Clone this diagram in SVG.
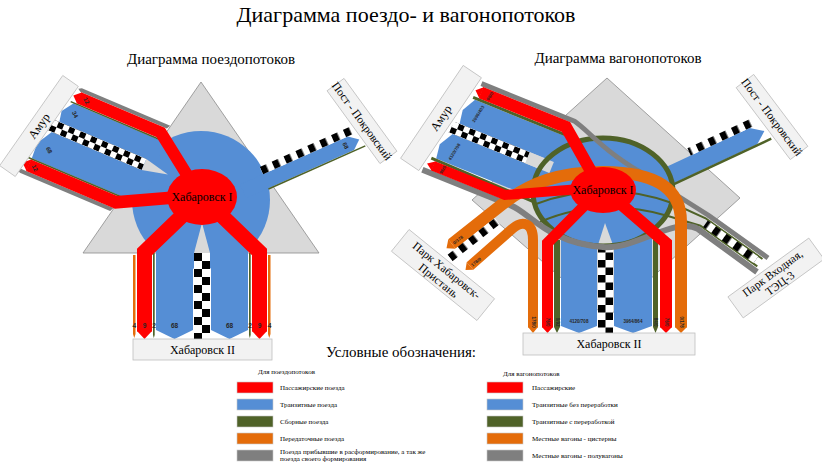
<svg xmlns="http://www.w3.org/2000/svg" width="822" height="464" viewBox="0 0 822 464">
<defs>
<style>
text{font-family:"Liberation Serif","DejaVu Serif","Noto Serif",serif}
.t{fill:#000}
.box{fill:#f2f2f2;stroke:#bfbfbf;stroke-width:0.8}
.red{fill:#ff0000}
.blue{fill:#558ed5}
.grn{fill:#4f6228}
.org{fill:#e46c0a}
.gry{fill:#7f7f7f}
.lg{fill:#d9d9d9}
.rs{fill:none;stroke:#ff0000;stroke-linejoin:miter;stroke-miterlimit:10}
.gs{fill:none;stroke:#4f6228}
.ys{fill:none;stroke:#7f7f7f;stroke-linejoin:round}
.os{fill:none;stroke:#e46c0a}
text.lbl,.lbl text{font-family:"Liberation Sans",Arial,sans-serif;font-weight:bold;fill:#262626;text-anchor:middle}
.leg{font-size:7px;fill:#000}
.sw{stroke:#c8c8c8;stroke-width:0.6}
</style>
<pattern id="chk6" x="0" y="0" width="12" height="12" patternUnits="userSpaceOnUse"><rect width="12" height="12" fill="#fff"/><rect width="6" height="6" fill="#000"/><rect x="6" y="6" width="6" height="6" fill="#000"/></pattern>
<pattern id="chkA" x="0" y="-4" width="13" height="8" patternUnits="userSpaceOnUse"><rect width="13" height="8" fill="#fff"/><rect width="6.5" height="8" fill="#000"/></pattern>
<pattern id="chkB" x="194" y="253" width="16" height="16" patternUnits="userSpaceOnUse"><rect width="16" height="16" fill="#fff"/><rect width="8" height="8" fill="#000"/><rect x="8" y="8" width="8" height="8" fill="#000"/></pattern>
<pattern id="chkC" x="598" y="245" width="15" height="15" patternUnits="userSpaceOnUse"><rect width="15" height="15" fill="#fff"/><rect width="7.5" height="7.5" fill="#000"/><rect x="7.5" y="7.5" width="7.5" height="7.5" fill="#000"/></pattern>
</defs>
<rect width="822" height="464" fill="#fff"/>

<text class="t" x="406" y="22" font-size="22" text-anchor="middle">Диаграмма поездо- и вагонопотоков</text>

<!-- ============ TRAIN FLOW DIAGRAM ============ -->
<g id="train-diagram">
<text class="t" x="211" y="64" font-size="15" text-anchor="middle">Диаграмма поездопотоков</text>
<polygon id="tf-triangle" points="201,82 83,253 319,253" fill="#d9d9d9" stroke="#8c8c8c" stroke-width="0.8"/>
<circle id="tf-hub" cx="201" cy="200" r="69" class="blue"/>

<g id="tf-connectors">
<g id="tf-amur-flows" transform="translate(51,125) rotate(23)">
 <polygon class="blue" points="4.3,-17 12.2,-28.5 112,-28.5 112,-6 6.5,-6"/>
 <polygon class="blue" points="-5.6,22 3.5,6 115,6 115,38 -4.7,38"/>
 <polygon fill="url(#chk6)" points="1.5,-6 101,-6 101,6 -1.5,6"/>
 <polygon class="lg" points="101,-6 127,0 101,6"/>
 <polygon class="gry" points="11,-44 14,-46 110,-46 108,-42 14,-42"/>
 <polygon class="gry" points="-13.7,54 -10,52 90,52 88,56 -10,56"/>
 <path class="gs" stroke-width="1.6" d="M9,-29.2 H105"/>
 <path class="gs" stroke-width="1.6" d="M-9.5,38.8 H95"/>
 <path class="rs" stroke-width="12" d="M15,-36 L104,-36 L162,5"/>
 <polygon class="red" points="9,-36 15.5,-42 15.5,-30"/>
 <path class="rs" stroke-width="12.5" d="M-5,45.75 L90,45.75 L158,10"/>
 <polygon class="red" points="-11.6,45.75 -4.5,39.5 -4.5,52"/>
 <text class="lbl" font-size="6" transform="translate(23,-36) rotate(40)" dy="2">12</text>
 <text class="lbl" font-size="6" transform="translate(18,-19) rotate(40)" dy="2">34</text>
 <text class="lbl" font-size="6" transform="translate(8,24) rotate(40)" dy="2">68</text>
 <text class="lbl" font-size="6" transform="translate(2,46) rotate(40)" dy="2">12</text>
</g>
<g id="tf-pokr-flows" transform="translate(202,197) rotate(-24)">
 <polygon class="blue" points="40,4 158,4 167,11.5 158,19 40,19"/>
 <rect x="65" y="-4" width="98" height="8" fill="url(#chkA)"/>
 <path class="gs" stroke-width="1.5" d="M64,19.75 H170"/>
 <text class="lbl" font-size="6" transform="translate(152,11.5) rotate(90)" dy="2">68</text>
</g>
<g id="tf-khab2-flows">
 <polygon class="blue" points="156,245 193,245 193,330 174.5,339 156,330"/>
 <polygon class="blue" points="211,245 248,245 248,330 229.5,339 211,330"/>
 <polygon class="lg" points="202,223 194,253 210,253"/>
 <rect x="194" y="253" width="16" height="86" fill="url(#chkB)"/>
 <polygon class="org" points="133,255 135.5,255 135.5,334 134.25,338 133,334"/>
 <polygon class="grn" points="153,253 154.7,253 154.7,335 153.8,338 153,335"/>
 <polygon class="grn" points="249,253 250.7,253 250.7,335 249.8,338 249,335"/>
 <polygon class="org" points="268,255 270.5,255 270.5,334 269.25,338 268,334"/>
 <path class="rs" stroke-width="15" d="M186,212 L144.5,252 L144.5,331.5"/>
 <polygon class="red" points="137,331 152,331 144.5,339"/>
 <path class="rs" stroke-width="15" d="M218,212 L259.5,252 L259.5,331.5"/>
 <polygon class="red" points="252,331 267,331 259.5,339"/>
 <g class="lbl" font-size="6.5">
  <text x="134.3" y="328">4</text><text x="144.5" y="328">9</text><text x="154" y="328">2</text>
  <text x="174.5" y="328">68</text><text x="229.5" y="328">68</text>
  <text x="250" y="328">2</text><text x="259.5" y="328">9</text><text x="269.5" y="328">4</text>
 </g>
</g>
</g>

<g id="tf-node-khab1">
 <ellipse cx="202" cy="197" rx="35" ry="28" class="red"/>
 <text class="t" x="202" y="201" font-size="12" text-anchor="middle">Хабаровск I</text>
</g>
<g id="tf-node-amur" transform="translate(39,126) rotate(-55)">
 <rect class="box" x="-55" y="-9.5" width="110" height="19"/>
 <text class="t" x="0" y="4" font-size="12" text-anchor="middle">Амур</text>
</g>
<g id="tf-node-pokr" transform="translate(362,121) rotate(54)">
 <rect class="box" x="-45" y="-10.5" width="90" height="21"/>
 <text class="t" x="0" y="4" font-size="11.5" text-anchor="middle">Пост - Покровский</text>
</g>
<g id="tf-node-khab2">
 <rect class="box" x="133" y="339" width="139" height="21"/>
 <text class="t" x="202.5" y="354" font-size="12" text-anchor="middle">Хабаровск II</text>
</g>
</g>

<!-- ============ WAGON FLOW DIAGRAM ============ -->
<g id="wagon-diagram">
<text class="t" x="618" y="63" font-size="15" text-anchor="middle">Диаграмма вагонопотоков</text>
<polygon id="wf-diamond" points="607,78 740,198 607,318 472,200" fill="#d9d9d9" stroke="#8c8c8c" stroke-width="0.8"/>
<ellipse id="wf-hub" cx="603" cy="192" rx="70" ry="54" class="blue"/>

<g id="wf-connectors">
<g id="wf-amur-base" transform="translate(451.5,127) rotate(22)">
 <polygon class="blue" points="4,-20 11.7,-34 125,-34 125,-6 6.3,-6"/>
 <polygon class="blue" points="-4.4,20.5 3.7,6 120,6 120,35 -2.4,35"/>
 <polygon fill="url(#chk6)" points="1.3,-6 82,-6 82,6 -1.3,6"/>
 <polygon class="lg" points="82,-6 108,-6 108,6 82,6"/>
 <path class="gs" stroke-width="3" d="M9,-35.5 H112"/>
 <path class="gs" stroke-width="3" d="M-7,36.5 L105,38.5"/>
</g>
<g id="wf-pokr-base" transform="translate(603,192) rotate(-25)">
 <polygon class="blue" points="40,4 160,4 172,13 160,22 40,22"/>
 <rect x="95" y="-4" width="72" height="8" fill="url(#chkA)"/>
 <path class="gs" stroke-width="2.5" d="M60,22.8 H175"/>
</g>
<g id="wf-khab2-base">
 <polygon class="blue" points="561,232 597,232 597,326 579,333 561,326"/>
 <polygon class="blue" points="614,232 652,232 652,326 633,333 614,326"/>
 <polygon class="lg" points="605,223 598,245 613,245"/>
 <rect x="598" y="245" width="15" height="88" fill="url(#chkC)"/>
</g>
<ellipse id="wf-ring" cx="603" cy="192" rx="70" ry="54" fill="none" stroke="#4f6228" stroke-width="5"/>
<path class="gs" stroke-width="2" d="M533,205 Q603,178 672,203 L705.6,218.3 L762.5,259"/>
<path class="gs" stroke-width="2" d="M540,222 Q600,196 668,216 L700.4,225.7 L757.3,266.4"/>
<path class="ys" stroke-width="5" d="M481.5,83.6 L574.6,121.3 C590,132 600,148 640,172 L708,215 L768,258"/>
<path class="ys" stroke-width="6" d="M422.4,169.7 L511.4,205.7 C530,213 548,243 603,247 C635,250 675,216 698,229 L757,272"/>
<g transform="translate(703,222) rotate(35.6)"><rect x="3" y="-4" width="62" height="8" fill="url(#chkA)"/></g>

<path class="os" stroke-width="12" d="M452,244 L500,206 C530,182 560,172 603,172 C650,172 681,185 681,222 L681,327.5"/>
<polygon class="org" points="455.7,248.7 448.3,239.3 446.5,248.3"/>
<polygon class="org" points="675,327 687,327 681,333"/>
<path class="os" stroke-width="10" d="M470,266 L512,229 C522,220 533,222 533,240 L533,327.5"/>
<polygon class="org" points="473.3,269.75 466.7,262.25 465.5,270"/>
<polygon class="org" points="528,327 538,327 533,333"/>
<g transform="translate(450,258) rotate(-38)"><rect x="0" y="-4" width="60" height="8" fill="url(#chkA)"/></g>

<g id="wf-amur-red" transform="translate(451.5,127) rotate(22)">
 <path class="rs" stroke-width="12" d="M14.5,-43 L106,-43 L160,0"/>
 <polygon class="red" points="8.5,-43 15,-49 15,-37"/>
 <path class="rs" stroke-width="10" d="M-2.5,43 L75,43 L145,8"/>
 <polygon class="red" points="-9,43 -2,38 -2,48"/>
 <text class="lbl" font-size="4.5" transform="translate(24,-43) rotate(-80)" dy="1.5">96/0</text>
 <text class="lbl" font-size="4.5" transform="translate(20,-22) rotate(-80)" dy="1.5">2096/403</text>
 <text class="lbl" font-size="4.5" transform="translate(12,22) rotate(-80)" dy="1.5">4120/708</text>
 <text class="lbl" font-size="4.5" transform="translate(8,43) rotate(-80)" dy="1.5">96/0</text>
</g>
<g id="wf-khab2-top">
 <polygon class="grn" points="554,240 560,240 560,327 557,333 554,327"/>
 <polygon class="grn" points="653,240 658,240 658,327 655.5,333 653,327"/>
 <path class="rs" stroke-width="11" d="M585,205 L547.5,243 L547.5,327.5"/>
 <polygon class="red" points="542,327 553,327 547.5,333"/>
 <path class="rs" stroke-width="12" d="M622,205 L666,243 L666,327.5"/>
 <polygon class="red" points="660,327 672,327 666,333"/>
 <g class="lbl" font-size="4.5">
  <text transform="translate(533,322) rotate(90)" dy="1.5">178/0</text>
  <text transform="translate(547.5,322) rotate(90)" dy="1.5">76/0</text>
  <text transform="translate(557,322) rotate(90)" dy="1.5">0/92</text>
  <text x="579" y="323">4120/708</text>
  <text x="633" y="323">3964/864</text>
  <text transform="translate(655.5,322) rotate(90)" dy="1.5">84/0</text>
  <text transform="translate(666,322) rotate(90)" dy="1.5">76/0</text>
  <text transform="translate(681,322) rotate(90)" dy="1.5">0/178</text>
  <text transform="translate(458,240) rotate(-38)" dy="1.5">0/178</text>
  <text transform="translate(476,262) rotate(-38)" dy="1.5">178/0</text>
 </g>
</g>
</g>

<g id="wf-node-khab1">
 <ellipse cx="603" cy="190" rx="33" ry="23" class="red"/>
 <text class="t" x="603" y="194" font-size="12" text-anchor="middle">Хабаровск I</text>
</g>
<g id="wf-node-amur" transform="translate(441,118) rotate(-56)">
 <rect class="box" x="-56" y="-11" width="112" height="22"/>
 <text class="t" x="0" y="4" font-size="12" text-anchor="middle">Амур</text>
</g>
<g id="wf-node-pokr" transform="translate(772,117) rotate(53)">
 <rect class="box" x="-45" y="-11" width="90" height="22"/>
 <text class="t" x="0" y="4" font-size="11.5" text-anchor="middle">Пост - Покровский</text>
</g>
<g id="wf-node-pristan" transform="translate(443,275) rotate(39)">
 <rect class="box" x="-55" y="-14" width="110" height="28"/>
 <text class="t" x="0" y="-2" font-size="11.5" text-anchor="middle">Парк Хабаровск-</text>
 <text class="t" x="0" y="11" font-size="11.5" text-anchor="middle">Пристань</text>
</g>
<g id="wf-node-vkhod" transform="translate(776,278) rotate(-36)">
 <rect class="box" x="-50" y="-13" width="100" height="26"/>
 <text class="t" x="0" y="-2" font-size="11.5" text-anchor="middle">Парк Входная,</text>
 <text class="t" x="0" y="10.5" font-size="11.5" text-anchor="middle">ТЭЦ-3</text>
</g>
<g id="wf-node-khab2">
 <rect class="box" x="523" y="333" width="172" height="22"/>
 <text class="t" x="609" y="348" font-size="12" text-anchor="middle">Хабаровск II</text>
</g>
</g>

<!-- ============ LEGEND ============ -->
<g id="legend">
<text class="t" x="401" y="357" font-size="15" text-anchor="middle">Условные обозначения:</text>
<g id="legend-trains">
 <text class="leg" x="258" y="374">Для поездопотоков</text>
 <rect class="sw" x="237" y="382" width="36" height="11" fill="#ff0000"/>
 <rect class="sw" x="237" y="399" width="36" height="11" fill="#558ed5"/>
 <rect class="sw" x="237" y="416" width="36" height="11" fill="#4f6228"/>
 <rect class="sw" x="237" y="433" width="36" height="11" fill="#e46c0a"/>
 <rect class="sw" x="237" y="450" width="36" height="11" fill="#7f7f7f"/>
 <text class="leg" x="280" y="390">Пассажирские поезда</text>
 <text class="leg" x="280" y="407">Транзитные поезда</text>
 <text class="leg" x="280" y="424">Сборные поезда</text>
 <text class="leg" x="280" y="441">Передаточные поезда</text>
 <text class="leg" x="280" y="454">Поезда прибывшие в расформирование, а так же</text>
 <text class="leg" x="280" y="461">поезда своего формирования</text>
</g>
<g id="legend-wagons">
 <text class="leg" x="503" y="376">Для вагонопотоков</text>
 <rect class="sw" x="487" y="382" width="36" height="11" fill="#ff0000"/>
 <rect class="sw" x="487" y="399" width="36" height="11" fill="#558ed5"/>
 <rect class="sw" x="487" y="416" width="36" height="11" fill="#4f6228"/>
 <rect class="sw" x="487" y="433" width="36" height="11" fill="#e46c0a"/>
 <rect class="sw" x="487" y="450" width="36" height="11" fill="#7f7f7f"/>
 <text class="leg" x="532" y="390">Пассажирские</text>
 <text class="leg" x="532" y="407">Транзитные без переработки</text>
 <text class="leg" x="532" y="424">Транзитные с переработкой</text>
 <text class="leg" x="532" y="441">Местные вагоны - цистерны</text>
 <text class="leg" x="532" y="458">Местные вагоны - полувагоны</text>
</g>
</g>
</svg>
